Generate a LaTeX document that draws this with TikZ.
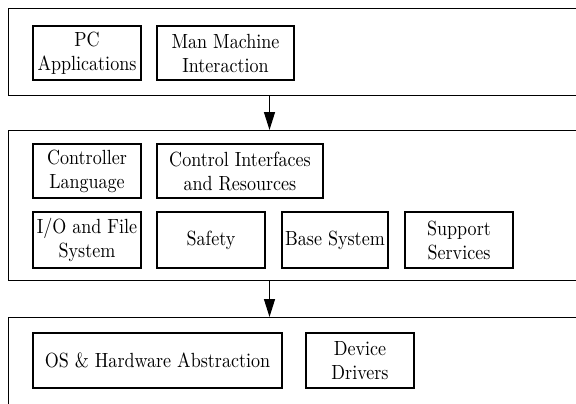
\documentclass[tikz,border=0pt]{standalone}
\usepackage{fontspec}
\setmainfont{lmroman10-regular.otf}[FakeStretch=0.88]
\usetikzlibrary{arrows.meta}
\begin{document}
\begin{tikzpicture}[x=1pt,y=-1pt,
  box/.style={draw,line width=1.3pt,inner sep=0pt,align=center,font=\rmfamily\fontsize{20.5}{24}\selectfont},
  layer/.style={draw,line width=1.3pt,inner sep=0pt,anchor=north west},
  arr/.style={line width=1.3pt,-{Triangle[length=18pt,width=11pt]}}]
\useasboundingbox (0,0) rectangle (576,404);
\clip (0,0) rectangle (576,404);
% layers
\node[layer,minimum width=620pt,minimum height=87pt] (top) at (8,8) {};
\node[layer,minimum width=620pt,minimum height=150pt] (mid) at (8,130) {};
\node[layer,minimum width=620pt,minimum height=140pt] (bot) at (8,317) {};
% top layer
\node[box,minimum width=108pt,minimum height=54pt] (pc) at (87,53) {PC\\Applications};
\node[box,minimum width=137pt,minimum height=54pt] (mmi) at (225.5,53) {Man Machine\\Interaction};
% middle layer
\node[box,minimum width=108pt,minimum height=54pt] (cl) at (87,171) {Controller\\Language};
\node[box,minimum width=166pt,minimum height=54pt] (cir) at (240,171) {Control Interfaces\\and Resources};
\node[box,minimum width=108pt,minimum height=56pt] (io) at (87,240) {I/O and File\\System};
\node[box,minimum width=108pt,minimum height=56pt] (safety) at (211,240) {Safety};
\node[box,minimum width=106pt,minimum height=56pt] (base) at (335,240) {Base System};
\node[box,minimum width=108pt,minimum height=56pt] (support) at (459,240) {Support\\Services};
% bottom layer
\node[box,minimum width=249pt,minimum height=55pt] (os) at (157.5,360.5) {OS \& Hardware Abstraction};
\node[box,minimum width=108pt,minimum height=55pt] (dd) at (360,360.5) {Device\\Drivers};
% arrows
\coordinate (ax) at (269.5,0);
\draw[arr] (top.south -| ax) -- (mid.north -| ax);
\draw[arr] (mid.south -| ax) -- (bot.north -| ax);
\end{tikzpicture}
\end{document}
